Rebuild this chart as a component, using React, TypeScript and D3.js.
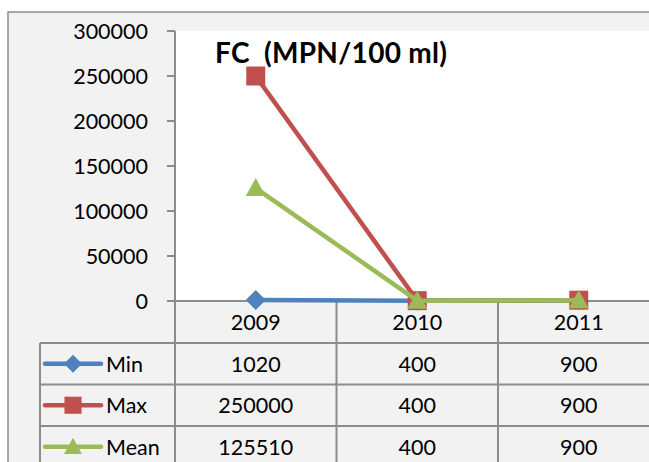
import React from "react";
import * as d3 from "d3";

const years = ["2009", "2010", "2011"];
const minVals = [1020, 400, 900];
const maxVals = [250000, 400, 900];
const meanVals = [125510, 400, 900];
const yTicks = [0, 50000, 100000, 150000, 200000, 250000, 300000];
const seriesNames = ["Min", "Max", "Mean"];
const seriesColors = ["#4f81bd", "#c0504d", "#9bbb59"];
const seriesShapes = ["diamond", "square", "triangle"];
const title = "FC  (MPN/100 ml)";

const W = 649;
const H = 462;
const FONT = "Lato, 'Open Sans', sans-serif";

function markerPath(shape: string, r: number) {
  if (shape === "diamond") return `M0,${-r}L${r},0L0,${r}L${-r},0Z`;
  if (shape === "square") return `M${-r * 0.95},${-r * 0.95}H${r * 0.95}V${r * 0.95}H${-r * 0.95}Z`;
  return `M0,${-r}L${r},${r * 0.8}L${-r},${r * 0.8}Z`;
}

export default function App() {
  const plotLeft = 175;
  const plotTop = 31;
  const plotBottom = 301;
  const bandW = 161.5;
  const x = d3
    .scaleBand<string>()
    .domain(years)
    .range([plotLeft, plotLeft + bandW * years.length])
    .paddingInner(0)
    .paddingOuter(0);
  const y = d3.scaleLinear().domain([0, 300000]).range([plotBottom, plotTop]);
  const cx = (c: string) => (x(c) as number) + x.bandwidth() / 2;

  const series = [minVals, maxVals, meanVals];
  const line = d3
    .line<number>()
    .x((_, i) => cx(years[i]))
    .y((v) => y(v));

  const rowTops = [301, 343, 384.5, 426];
  const rowH = 41.5;
  const gridColor = "#8c8c8c";
  const tableLeft = 40;

  return (
    <svg
      width={W}
      height={H}
      style={{ position: "absolute", left: 0, top: 0, background: "#ffffff" }}
      fontFamily={FONT}
    >
      {/* chart area */}
      <rect x={8} y={12} width={W} height={H} fill="#f2f2f2" stroke="#8c8c8c" strokeWidth={1.5} />
      {/* plot area */}
      <rect x={plotLeft} y={plotTop} width={W - plotLeft + 20} height={plotBottom - plotTop} fill="#ffffff" />

      {/* y ticks */}
      {yTicks.map((t) => (
        <g key={t}>
          <line x1={167} x2={plotLeft} y1={y(t)} y2={y(t)} stroke={gridColor} strokeWidth={2} />
          <text
            x={148}
            y={y(t)}
            textAnchor="end"
            dominantBaseline="central"
            fontSize={21.5}
            fill="#000"
          >
            {t}
          </text>
        </g>
      ))}

      {/* title */}
      <text
        x={215}
        y={63}
        fontSize={28}
        fontWeight="bold"
        letterSpacing={0.3}
        style={{ whiteSpace: "pre" }}
        fill="#000"
      >
        {title}
      </text>

      {/* axis line */}
      <line x1={plotLeft} x2={W} y1={plotBottom} y2={plotBottom} stroke={gridColor} strokeWidth={2} />
      <line x1={plotLeft} x2={plotLeft} y1={plotTop} y2={H} stroke={gridColor} strokeWidth={2} />

      {/* table grid */}
      {years.map((c, i) =>
        i > 0 ? (
          <line
            key={"v" + c}
            x1={x(c) as number}
            x2={x(c) as number}
            y1={plotBottom}
            y2={H}
            stroke={gridColor}
            strokeWidth={2}
          />
        ) : null
      )}
      <line x1={tableLeft} x2={tableLeft} y1={rowTops[1]} y2={H} stroke={gridColor} strokeWidth={2} />
      {rowTops.slice(1).map((r) => (
        <line key={r} x1={tableLeft} x2={W} y1={r} y2={r} stroke={gridColor} strokeWidth={2} />
      ))}

      {/* category labels */}
      {years.map((c) => (
        <text
          key={"c" + c}
          x={cx(c)}
          y={rowTops[0] + rowH / 2}
          textAnchor="middle"
          dominantBaseline="central"
          fontSize={21.5}
          fill="#000"
        >
          {c}
        </text>
      ))}

      {/* table rows */}
      {series.map((vals, si) => {
        const rc = rowTops[si + 1] + rowH / 2;
        return (
          <g key={"row" + si}>
            <line x1={45} x2={101} y1={rc} y2={rc} stroke={seriesColors[si]} strokeWidth={4.5} strokeLinecap="round" />
            <path d={markerPath(seriesShapes[si], 9)} transform={`translate(73,${rc})`} fill={seriesColors[si]} />
            <text x={106} y={rc} dominantBaseline="central" fontSize={21.5} fill="#000">
              {seriesNames[si]}
            </text>
            {vals.map((v, i) => (
              <text
                key={i}
                x={cx(years[i])}
                y={rc}
                textAnchor="middle"
                dominantBaseline="central"
                fontSize={21.5}
                fill="#000"
              >
                {v}
              </text>
            ))}
          </g>
        );
      })}

      {/* series lines */}
      {series.map((vals, si) => (
        <g key={"s" + si}>
          <path d={line(vals) as string} fill="none" stroke={seriesColors[si]} strokeWidth={4.5} strokeLinejoin="round" />
          {vals.map((v, i) => (
            <path
              key={i}
              d={markerPath(seriesShapes[si], 10)}
              transform={`translate(${cx(years[i])},${y(v)})`}
              fill={seriesColors[si]}
            />
          ))}
        </g>
      ))}
    </svg>
  );
}
